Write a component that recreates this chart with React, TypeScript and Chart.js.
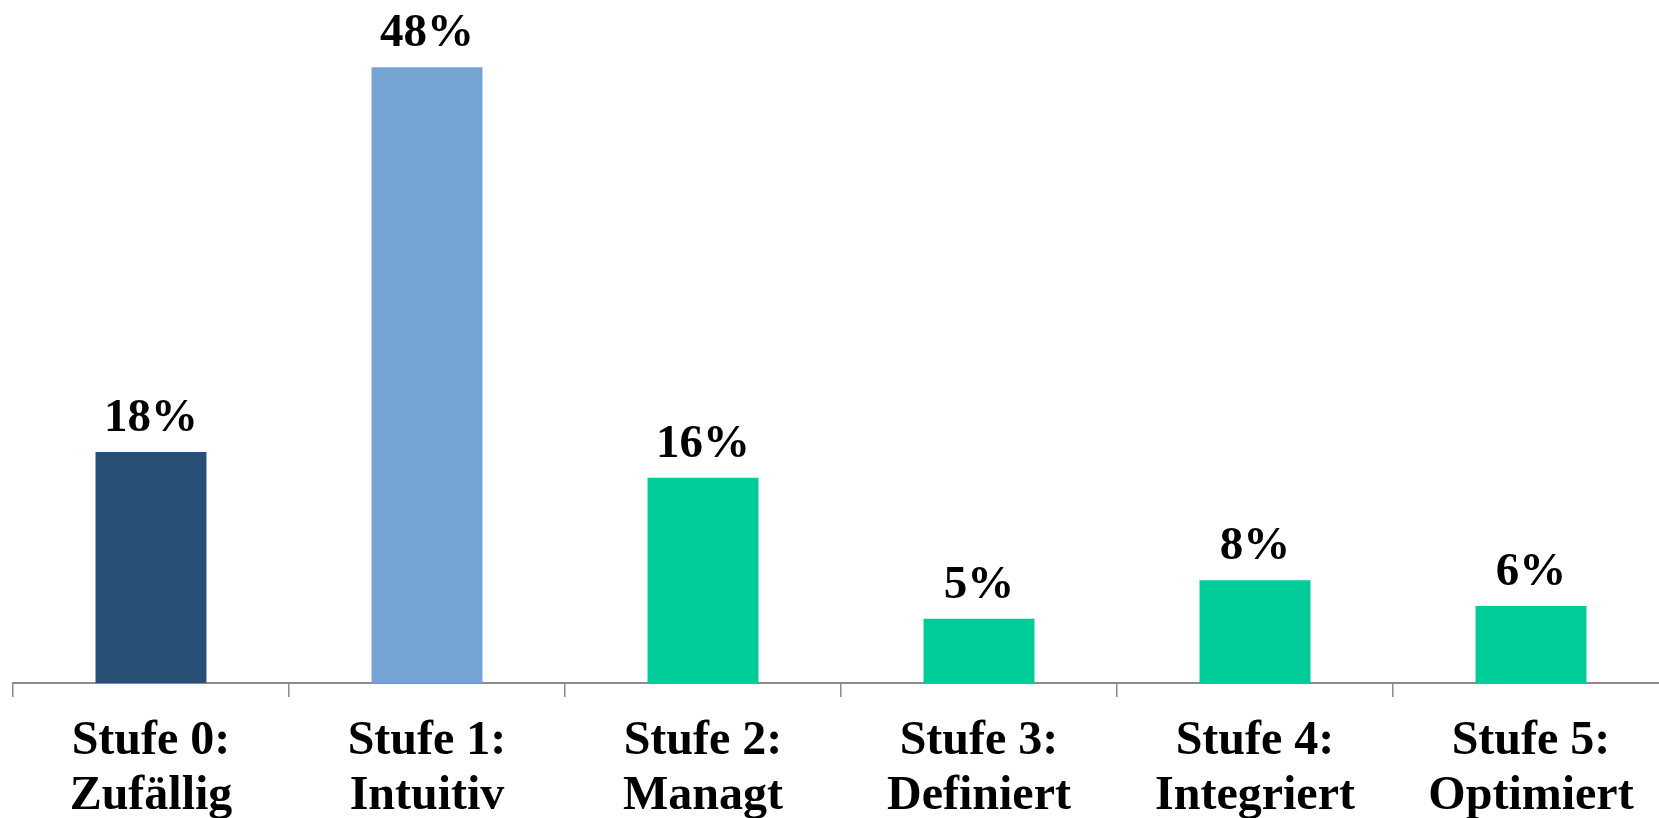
import React, { useEffect, useRef } from "react";
import { Chart, registerables } from "chart.js";

Chart.register(...registerables);

const categories: string[][] = [
  ["Stufe 0:", "Zufällig"],
  ["Stufe 1:", "Intuitiv"],
  ["Stufe 2:", "Managt"],
  ["Stufe 3:", "Definiert"],
  ["Stufe 4:", "Integriert"],
  ["Stufe 5:", "Optimiert"],
];
const shares: number[] = [18, 48, 16, 5, 8, 6];
const barColors: string[] = ["#284F75", "#75A3D3", "#00CC9A", "#00CC9A", "#00CC9A", "#00CC9A"];

const FONT = "'Liberation Serif', 'Times New Roman', serif";

const valueLabels = {
  id: "valueLabels",
  afterDatasetsDraw(chart: Chart) {
    const ctx = chart.ctx;
    const meta = chart.getDatasetMeta(0);
    ctx.save();
    ctx.font = `bold 47px ${FONT}`;
    ctx.fillStyle = "#000";
    ctx.textAlign = "center";
    ctx.textBaseline = "alphabetic";
    meta.data.forEach((bar: any, i: number) => {
      ctx.fillText(`${shares[i]}%`, bar.x, bar.y - 21);
    });
    ctx.restore();
  },
};

export default function App() {
  const ref = useRef<HTMLCanvasElement>(null);

  useEffect(() => {
    if (!ref.current) return;
    const chart = new Chart(ref.current, {
      type: "bar",
      data: {
        labels: categories,
        datasets: [
          {
            data: shares,
            backgroundColor: barColors,
            borderWidth: 0,
            categoryPercentage: 1,
            barPercentage: 0.402,
          },
        ],
      },
      options: {
        animation: false,
        responsive: false,
        maintainAspectRatio: false,
        layout: { padding: { left: 13, right: 11, top: 41.5, bottom: 17 } },
        plugins: { legend: { display: false }, tooltip: { enabled: false } },
        scales: {
          y: { display: false, min: 0, max: 50 },
          x: {
            afterFit: (scale: any) => {
              scale.height = 140;
            },
            border: { display: true, color: "#8C8C8C", width: 2 },
            grid: {
              offset: true,
              drawOnChartArea: false,
              drawTicks: true,
              tickLength: 14,
              color: "#8C8C8C",
              lineWidth: 1.5,
            },
            ticks: {
              color: "#000",
              padding: 17,
              font: { family: FONT, size: 48, weight: "bold", lineHeight: 1.15 },
              maxRotation: 0,
              autoSkip: false,
            },
          },
        },
      },
      plugins: [valueLabels],
    });
    return () => chart.destroy();
  }, []);

  return (
    <div
      style={{
        position: "fixed",
        left: 0,
        top: 0,
        width: 1659,
        height: 818,
        overflow: "hidden",
        background: "#ffffff",
      }}
    >
      <canvas ref={ref} width={1680} height={840} style={{ display: "block" }} />
    </div>
  );
}
